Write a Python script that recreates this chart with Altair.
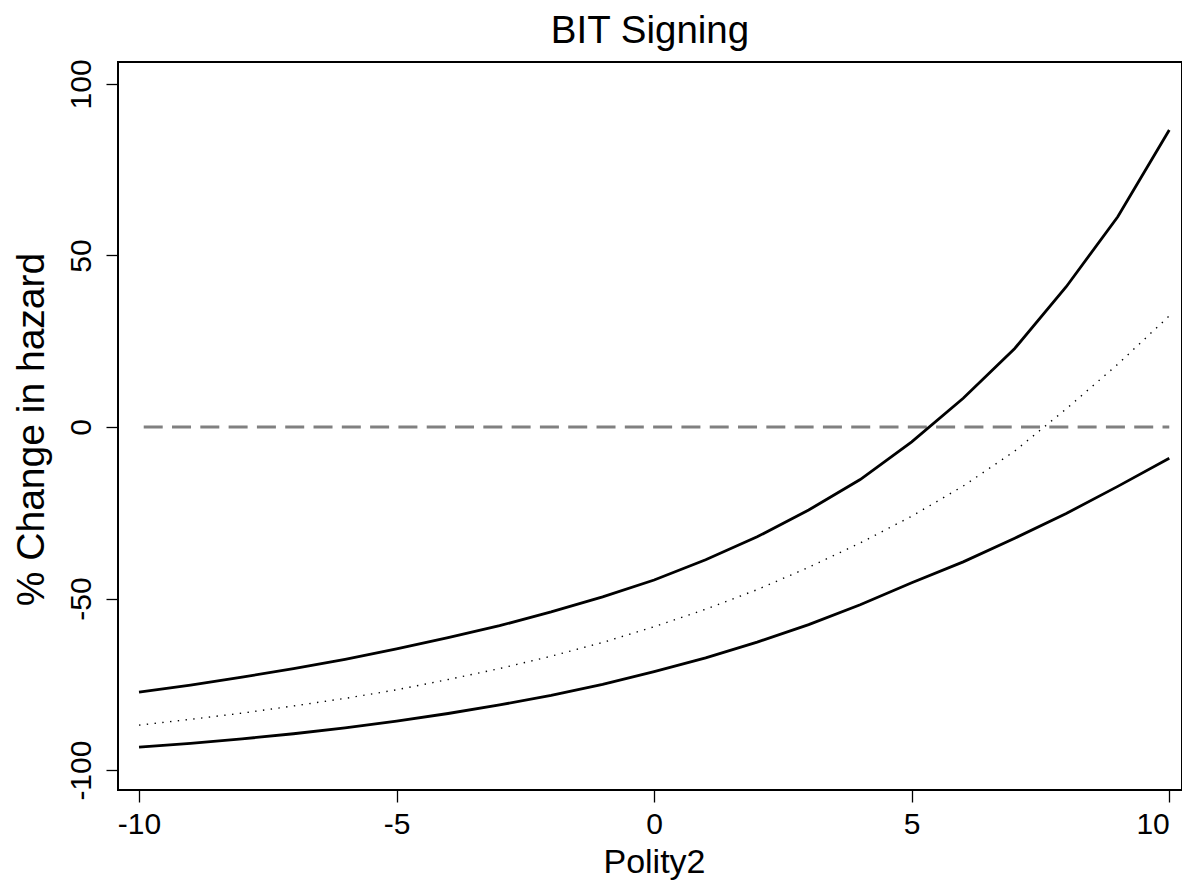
import altair as alt
import pandas as pd

# Values
polity = list(range(-10, 11))
upper = [-77.3, -75.2, -72.9, -70.4, -67.7, -64.7, -61.4, -57.9, -53.9, -49.5,
         -44.6, -38.7, -32.0, -24.2, -15.3, -4.3, 8.4, 22.9, 40.9, 61.3, 86.6]
mid = [-86.9, -85.2, -83.4, -81.3, -79.1, -76.6, -73.6, -70.4, -66.8, -62.8,
       -58.2, -53.1, -47.4, -40.9, -33.8, -26.0, -17.2, -7.0, 5.3, 18.3, 32.4]
lower = [-93.3, -92.2, -90.9, -89.4, -87.7, -85.7, -83.5, -81.0, -78.2, -75.0,
         -71.3, -67.3, -62.7, -57.6, -51.8, -45.4, -39.3, -32.4, -25.2, -17.3, -9.1]
x_ticks = [-10, -5, 0, 5, 10]
y_ticks = [-100, -50, 0, 50, 100]
ref_x = [-10]
ref_x2 = [10]
ref_y = [0]

df = pd.DataFrame({"polity": polity, "upper": upper, "mid": mid, "lower": lower})
ref = pd.DataFrame({"x": ref_x, "x2": ref_x2, "y": ref_y})

FONT = "Liberation Sans"
xscale = alt.Scale(domain=[-10.408, 10.247], nice=False, zero=False)
yscale = alt.Scale(domain=[-105.8, 106.4], nice=False, zero=False)

xaxis = alt.Axis(
    values=x_ticks, title="Polity2", grid=False, domain=False,
    labelExpr="datum.value + ''",
    labelFlush=15, labelFlushOffset=0,
    tickSize=12, tickColor="black", tickWidth=1.3,
    labelFontSize=30, labelFont=FONT, labelColor="black",
    labelBaseline="alphabetic", labelPadding=31,
    titleFontSize=34, titleFont=FONT, titleFontWeight="normal", titleColor="black",
    titleBaseline="alphabetic", titleX=536, titleY=82, titleAlign="center",
)
yaxis = alt.Axis(
    values=y_ticks, title="% Change in hazard", grid=False, domain=False,
    labelExpr="datum.value + ''",
    tickSize=12, tickColor="black", tickWidth=1.3,
    labelFontSize=30, labelFont=FONT, labelColor="black",
    labelAngle=270, labelAlign="center", labelBaseline="alphabetic", labelPadding=16,
    titleFontSize=39, titleFont=FONT, titleFontWeight="normal", titleColor="black",
    titleAngle=270, titleBaseline="alphabetic", titleAlign="center",
    titleX=-75, titleY=367,
)

rule = alt.Chart(ref).mark_rule(
    color="#808080", strokeWidth=3, strokeDash=[19, 9.3], strokeDashOffset=23.6
).encode(
    x=alt.X("x:Q", scale=xscale, axis=xaxis),
    x2="x2:Q",
    y=alt.Y("y:Q", scale=yscale, axis=yaxis),
)

base = alt.Chart(df)
up = base.mark_line(color="black", strokeWidth=2.8).encode(
    x=alt.X("polity:Q", scale=xscale, axis=xaxis),
    y=alt.Y("upper:Q", scale=yscale, axis=yaxis),
)
lo = base.mark_line(color="black", strokeWidth=2.8).encode(
    x=alt.X("polity:Q", scale=xscale, axis=xaxis),
    y=alt.Y("lower:Q", scale=yscale, axis=yaxis),
)
md = base.mark_line(color="black", strokeWidth=1.4, strokeDash=[1.4, 6.4]).encode(
    x=alt.X("polity:Q", scale=xscale, axis=xaxis),
    y=alt.Y("mid:Q", scale=yscale, axis=yaxis),
)

chart = alt.layer(rule, up, lo, md).properties(
    width=1064,
    height=728,
    background="white",
    autosize=alt.AutoSizeParams(type="none"),
    padding={"left": 110, "top": 54, "right": 0, "bottom": 90},
    title=alt.TitleParams(
        "BIT Signing", fontSize=38.5, font=FONT, fontWeight="normal", color="black",
        anchor="middle", frame="group", baseline="alphabetic", offset=20, dy=43,
    ),
).configure_view(
    stroke="black", strokeWidth=2
)

chart.save("out.html", embed_options={"renderer": "svg", "actions": False})
